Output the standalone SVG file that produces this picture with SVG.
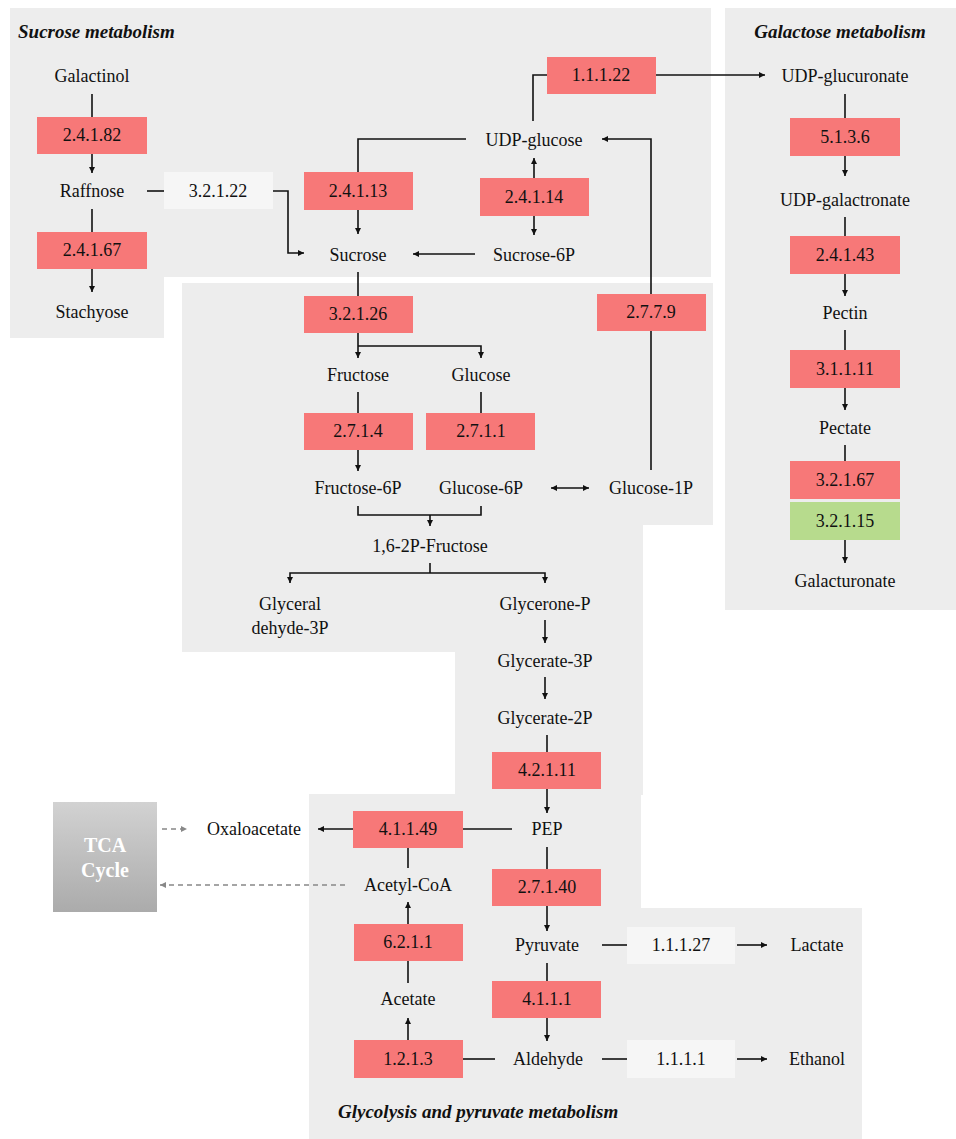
<svg xmlns="http://www.w3.org/2000/svg" width="956" height="1139" viewBox="0 0 956 1139">
<defs>
<style>
.panel{fill:#ededed}
.t{font-family:"Liberation Serif","Times New Roman",serif;font-size:18px;fill:#111;text-anchor:middle}
.title{font-family:"Liberation Serif","Times New Roman",serif;font-size:19px;font-weight:bold;font-style:italic;fill:#111}
.red{fill:#f77878}
.green{fill:#b7db8d}
.light{fill:#f6f6f6}
.c{fill:none;stroke:#111;stroke-width:1.6}
.a{marker-end:url(#ah)}
.d{fill:none;stroke:#888;stroke-width:1.4;stroke-dasharray:5,4;marker-end:url(#ahg)}
.tca{font-family:"Liberation Serif","Times New Roman",serif;font-size:20px;font-weight:bold;fill:#fff;text-anchor:middle}
</style>
<marker id="ah" viewBox="0 0 6 6" refX="6" refY="3" markerWidth="6" markerHeight="6" markerUnits="userSpaceOnUse" orient="auto-start-reverse"><path d="M0,0 L6,3 L0,6 z" fill="#111"/></marker>
<marker id="ahg" viewBox="0 0 6 6" refX="6" refY="3" markerWidth="6" markerHeight="6" markerUnits="userSpaceOnUse" orient="auto"><path d="M0,0 L6,3 L0,6 z" fill="#888"/></marker>
<linearGradient id="tcag" x1="0" y1="0" x2="0" y2="1"><stop offset="0" stop-color="#d2d2d2"/><stop offset="1" stop-color="#ababab"/></linearGradient>
</defs>

<g id="panels">
<polygon class="panel" points="10,8 711,8 711,277 164,277 164,338 10,338"/>
<polygon class="panel" points="182,283 713,283 713,525 643,525 643,795 455,795 455,652 182,652"/>
<polygon class="panel" points="309,794 641,794 641,908 862,908 862,1139 309,1139"/>
<rect class="panel" x="725" y="8" width="231" height="602"/>
</g>

<g id="titles">
<text class="title" x="18" y="38">Sucrose metabolism</text>
<text class="title" x="840" y="38" text-anchor="middle">Galactose metabolism</text>
<text class="title" x="338" y="1118">Glycolysis and pyruvate metabolism</text>
</g>

<g id="connectors">
<path class="c" d="M92,94 V117"/>
<path class="c a" d="M92,154 V173"/>
<path class="c" d="M92,209 V232"/>
<path class="c a" d="M92,269 V292"/>
<path class="c" d="M147,191 H164"/>
<path class="c a" d="M273,191 H288 V253 H304"/>
<path class="c" d="M533,121 V75 H547"/>
<path class="c a" d="M656,75 H765"/>
<path class="c" d="M466,139 H358 V172"/>
<path class="c a" d="M358,210 V234"/>
<path class="c a" d="M534,178 V158"/>
<path class="c a" d="M534,216 V235"/>
<path class="c a" d="M475,254 H413"/>
<path class="c" d="M651,470 V331"/>
<path class="c a" d="M651,294 V139 H602"/>
<path class="c" d="M358,272 V296"/>
<path class="c a" d="M358,333 V358"/>
<path class="c a" d="M358,346 H481 V358"/>
<path class="c" d="M358,392 V413"/>
<path class="c a" d="M358,450 V471"/>
<path class="c" d="M481,392 V413"/>
<path class="c a" d="M551,488 H589" marker-start="url(#ah)"/>
<path class="c" d="M358,506 V515 H481 V506"/>
<path class="c a" d="M430,515 V526"/>
<path class="c" d="M430,563 V573"/>
<path class="c a" d="M430,573 H290 V583"/>
<path class="c a" d="M430,573 H545 V583"/>
<path class="c a" d="M545,620 V643"/>
<path class="c a" d="M545,677 V699"/>
<path class="c" d="M547,735 V752"/>
<path class="c a" d="M547,789 V813"/>
<path class="c" d="M512,829 H463"/>
<path class="c a" d="M353,829 H318"/>
<path class="c" d="M408,848 V868"/>
<path class="c" d="M547,847 V869"/>
<path class="c a" d="M547,906 V931"/>
<path class="c a" d="M408,924 V902"/>
<path class="c" d="M408,983 V961"/>
<path class="c a" d="M408,1040 V1018"/>
<path class="c" d="M495,1059 H463"/>
<path class="c" d="M547,963 V981"/>
<path class="c a" d="M547,1018 V1041"/>
<path class="c" d="M602,945 H627"/>
<path class="c a" d="M737,945 H767"/>
<path class="c" d="M602,1059 H627"/>
<path class="c a" d="M737,1059 H767"/>
<path class="d" d="M162,829 H187"/>
<path class="d" d="M345,885 H160"/>
<path class="c" d="M845,94 V118"/>
<path class="c a" d="M845,156 V176"/>
<path class="c" d="M845,217 V236"/>
<path class="c a" d="M845,274 V296"/>
<path class="c" d="M845,330 V350"/>
<path class="c a" d="M845,388 V410"/>
<path class="c" d="M845,445 V461"/>
<path class="c a" d="M845,540 V563"/>
</g>

<g id="n-galactinol"><text class="t" x="92" y="82">Galactinol</text></g>
<g id="e-2.4.1.82"><rect class="red" x="37" y="117" width="110" height="37"/><text class="t" x="92" y="141">2.4.1.82</text></g>
<g id="n-raffnose"><text class="t" x="92" y="197">Raffnose</text></g>
<g id="e-3.2.1.22"><rect class="light" x="164" y="172" width="109" height="37"/><text class="t" x="218" y="197">3.2.1.22</text></g>
<g id="e-2.4.1.67"><rect class="red" x="37" y="232" width="110" height="37"/><text class="t" x="92" y="256">2.4.1.67</text></g>
<g id="n-stachyose"><text class="t" x="92" y="318">Stachyose</text></g>

<g id="e-1.1.1.22"><rect class="red" x="547" y="57" width="109" height="37"/><text class="t" x="601" y="81">1.1.1.22</text></g>
<g id="n-udpglucose"><text class="t" x="534" y="146">UDP-glucose</text></g>
<g id="e-2.4.1.13"><rect class="red" x="304" y="172" width="109" height="38"/><text class="t" x="358" y="197">2.4.1.13</text></g>
<g id="e-2.4.1.14"><rect class="red" x="480" y="178" width="109" height="38"/><text class="t" x="534" y="203">2.4.1.14</text></g>
<g id="n-sucrose"><text class="t" x="358" y="261">Sucrose</text></g>
<g id="n-sucrose6p"><text class="t" x="534" y="261">Sucrose-6P</text></g>

<g id="e-3.2.1.26"><rect class="red" x="304" y="296" width="109" height="37"/><text class="t" x="358" y="320">3.2.1.26</text></g>
<g id="e-2.7.7.9"><rect class="red" x="597" y="294" width="109" height="37"/><text class="t" x="651" y="318">2.7.7.9</text></g>
<g id="n-fructose"><text class="t" x="358" y="381">Fructose</text></g>
<g id="n-glucose"><text class="t" x="481" y="381">Glucose</text></g>
<g id="e-2.7.1.4"><rect class="red" x="304" y="413" width="109" height="37"/><text class="t" x="358" y="437">2.7.1.4</text></g>
<g id="e-2.7.1.1"><rect class="red" x="426" y="413" width="109" height="37"/><text class="t" x="481" y="437">2.7.1.1</text></g>
<g id="n-fructose6p"><text class="t" x="358" y="494">Fructose-6P</text></g>
<g id="n-glucose6p"><text class="t" x="481" y="494">Glucose-6P</text></g>
<g id="n-glucose1p"><text class="t" x="651" y="494">Glucose-1P</text></g>
<g id="n-fbp"><text class="t" x="430" y="552">1,6-2P-Fructose</text></g>
<g id="n-g3p"><text class="t" x="290" y="610">Glyceral</text><text class="t" x="290" y="634">dehyde-3P</text></g>
<g id="n-glyceronep"><text class="t" x="545" y="610">Glycerone-P</text></g>
<g id="n-glycerate3p"><text class="t" x="545" y="667">Glycerate-3P</text></g>
<g id="n-glycerate2p"><text class="t" x="545" y="724">Glycerate-2P</text></g>
<g id="e-4.2.1.11"><rect class="red" x="492" y="752" width="109" height="37"/><text class="t" x="547" y="776">4.2.1.11</text></g>

<g id="n-pep"><text class="t" x="547" y="835">PEP</text></g>
<g id="e-4.1.1.49"><rect class="red" x="353" y="811" width="110" height="37"/><text class="t" x="408" y="835">4.1.1.49</text></g>
<g id="n-oxaloacetate"><text class="t" x="254" y="835">Oxaloacetate</text></g>
<g id="n-tca"><rect x="53" y="802" width="104" height="110" fill="url(#tcag)"/><text class="tca" x="105" y="852">TCA</text><text class="tca" x="105" y="877">Cycle</text></g>
<g id="n-acetylcoa"><text class="t" x="408" y="891">Acetyl-CoA</text></g>
<g id="e-2.7.1.40"><rect class="red" x="492" y="869" width="109" height="37"/><text class="t" x="547" y="893">2.7.1.40</text></g>
<g id="e-6.2.1.1"><rect class="red" x="354" y="924" width="109" height="37"/><text class="t" x="408" y="948">6.2.1.1</text></g>
<g id="n-pyruvate"><text class="t" x="547" y="951">Pyruvate</text></g>
<g id="e-1.1.1.27"><rect class="light" x="627" y="927" width="108" height="37"/><text class="t" x="681" y="951">1.1.1.27</text></g>
<g id="n-lactate"><text class="t" x="817" y="951">Lactate</text></g>
<g id="e-4.1.1.1"><rect class="red" x="492" y="981" width="109" height="37"/><text class="t" x="547" y="1005">4.1.1.1</text></g>
<g id="n-acetate"><text class="t" x="408" y="1005">Acetate</text></g>
<g id="e-1.2.1.3"><rect class="red" x="354" y="1040" width="109" height="38"/><text class="t" x="408" y="1065">1.2.1.3</text></g>
<g id="n-aldehyde"><text class="t" x="548" y="1065">Aldehyde</text></g>
<g id="e-1.1.1.1"><rect class="light" x="627" y="1040" width="108" height="38"/><text class="t" x="681" y="1065">1.1.1.1</text></g>
<g id="n-ethanol"><text class="t" x="817" y="1065">Ethanol</text></g>

<g id="n-udpglucuronate"><text class="t" x="845" y="82">UDP-glucuronate</text></g>
<g id="e-5.1.3.6"><rect class="red" x="790" y="118" width="110" height="38"/><text class="t" x="845" y="143">5.1.3.6</text></g>
<g id="n-udpgalactronate"><text class="t" x="845" y="206">UDP-galactronate</text></g>
<g id="e-2.4.1.43"><rect class="red" x="790" y="236" width="110" height="38"/><text class="t" x="845" y="261">2.4.1.43</text></g>
<g id="n-pectin"><text class="t" x="845" y="319">Pectin</text></g>
<g id="e-3.1.1.11"><rect class="red" x="790" y="350" width="110" height="38"/><text class="t" x="845" y="375">3.1.1.11</text></g>
<g id="n-pectate"><text class="t" x="845" y="434">Pectate</text></g>
<g id="e-3.2.1.67"><rect class="red" x="790" y="461" width="110" height="38"/><text class="t" x="845" y="486">3.2.1.67</text></g>
<g id="e-3.2.1.15"><rect class="green" x="790" y="502" width="110" height="38"/><text class="t" x="845" y="527">3.2.1.15</text></g>
<g id="n-galacturonate"><text class="t" x="845" y="587">Galacturonate</text></g>
</svg>
